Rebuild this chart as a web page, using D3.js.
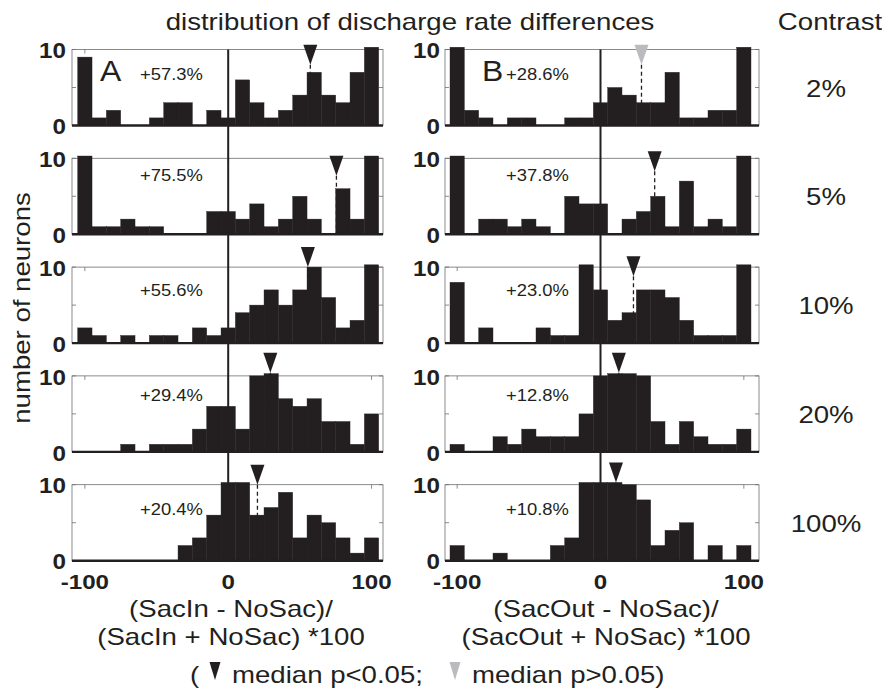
<!DOCTYPE html>
<html><head><meta charset="utf-8">
<script src="https://cdn.jsdelivr.net/npm/d3@7"></script>
<style>html,body{margin:0;padding:0;background:#fff;}svg{display:block;}</style>
</head><body>
<svg id="chart" width="882" height="690"></svg>
<script>
// ---------- DATA ----------
const binCenters = [-100,-90,-80,-70,-60,-50,-40,-30,-20,-10,0,10,20,30,40,50,60,70,80,90,100];
const contrasts = ["2%","5%","10%","20%","100%"];
// SacIn histograms (column A), one row per contrast
const sacInCounts = [
  [9,1,2,0,0,1,3,3,0,2,1,6,3,1,2,4,7,4,3,7,11],
  [11,1,1,2,1,1,0,0,0,3,3,2,4,1,2,5,2,0,6,2,11],
  [2,1,0,1,0,1,1,0,2,1,2,4,5,7,5,7,10,6,2,3,11],
  [0,0,0,1,0,1,1,1,3,6,6,3,10,11,7,6,7,4,4,1,5],
  [0,0,0,0,0,0,0,2,3,6,11,11,6,7,9,3,6,5,3,1,3]
];
// SacOut histograms (column B)
const sacOutCounts = [
  [11,2,1,0,1,1,0,0,1,1,3,5,4,3,3,7,1,1,2,2,11],
  [11,0,2,2,1,2,1,0,5,4,4,0,2,3,5,1,7,1,2,1,11],
  [8,0,2,0,0,0,2,1,1,11,7,3,4,7,7,6,3,1,1,1,11],
  [1,0,0,2,1,3,2,2,2,5,10,11,11,10,4,1,4,2,1,1,3],
  [2,0,0,1,0,0,0,2,3,11,11,11,10,8,2,4,5,0,2,0,2]
];
const sacInMedians  = [57.3, 75.5, 55.6, 29.4, 20.4];
const sacOutMedians = [28.6, 37.8, 23.0, 12.8, 10.8];
const sacInSignificant  = [true, true, true, true, true];
const sacOutSignificant = [false, true, true, true, true];
// height (in counts) of the tip of each median marker
const sacInMarkerTip  = [8.0, 7.7, 10.0, 10.4, 10.0];
const sacOutMarkerTip = [8.0, 8.3, 8.8, 10.4, 10.3];
const xTicks = [-100, 0, 100];
const yTickLabels = [0, 10];
const yMinorTicks = [0, 5, 10];

// ---------- LAYOUT ----------
const W = 882, H = 690;
const FONT = "'Liberation Sans', Arial, Helvetica, sans-serif";
const SX = 1.2;            // horizontal stretch of the original typography
const BAR = "#231f20", GRAY = "#b9bbbe";
const rowTop0 = 49.5, rowStep = 108.8, rowH = 76;
const yClip = 10.3;
const cols = [
  {name:"A", counts:sacInCounts, med:sacInMedians, sig:sacInSignificant, tip:sacInMarkerTip,
   boxL:72, boxR:383, barL:77.7, barR:378.7, labelX:140, tickLabelX:66,
   title:["(SacIn - NoSac)/","(SacIn + NoSac) *100"], titleX:231},
  {name:"B", counts:sacOutCounts, med:sacOutMedians, sig:sacOutSignificant, tip:sacOutMarkerTip,
   boxL:445, boxR:759, barL:450, barR:751, labelX:506, tickLabelX:440,
   title:["(SacOut - NoSac)/","(SacOut + NoSac) *100"], titleX:606}
];
const pctLabelDy = [30, 23, 29, 25, 30];

const svg = d3.select("#chart");
svg.append("rect").attr("width",W).attr("height",H).attr("fill","#fff");

function txt(g, x, y, s, size, opts={}) {
  return g.append("text")
    .attr("transform", `translate(${x},${y}) scale(${opts.sx||SX},1)`)
    .attr("font-family", FONT)
    .attr("font-size", size)
    .attr("font-weight", opts.weight||"normal")
    .attr("text-anchor", opts.anchor||"start")
    .attr("dominant-baseline", opts.baseline||"auto")
    .attr("fill", opts.fill||"#231f20")
    .text(s);
}
function triangle(g, cx, tipY, w, h, fill) {
  g.append("path")
    .attr("d", `M${cx-w/2},${tipY-h} L${cx+w/2},${tipY-h} L${cx},${tipY} Z`)
    .attr("fill", fill);
}

cols.forEach((col, ci) => {
  const x = d3.scaleLinear().domain([-105,105]).range([col.barL, col.barR]);
  const g = svg.append("g");
  col.counts.forEach((counts, ri) => {
    const top = rowTop0 + ri*rowStep;
    const y = d3.scaleLinear().domain([0,10]).range([top+rowH, top]);
    const p = g.append("g");
    // box (thin gray)
    p.append("rect").attr("x", col.boxL).attr("y", top)
      .attr("width", col.boxR-col.boxL).attr("height", rowH)
      .attr("fill","none").attr("stroke","#6d6e71").attr("stroke-width",0.8);
    // inner tick marks
    yMinorTicks.forEach(v => {
      p.append("line").attr("x1",col.boxL).attr("x2",col.boxL+4).attr("y1",y(v)).attr("y2",y(v))
        .attr("stroke","#6d6e71").attr("stroke-width",0.8);
      p.append("line").attr("x1",col.boxR).attr("x2",col.boxR-4).attr("y1",y(v)).attr("y2",y(v))
        .attr("stroke","#6d6e71").attr("stroke-width",0.8);
    });
    xTicks.forEach(v => {
      p.append("line").attr("x1",x(v)).attr("x2",x(v)).attr("y1",top).attr("y2",top+4)
        .attr("stroke","#6d6e71").attr("stroke-width",0.8);
    });
    // bars
    p.selectAll("rect.bar").data(binCenters.map((c,i)=>({c, v:counts[i]})).filter(d=>d.v>0))
      .enter().append("rect").attr("class","bar")
      .attr("x", d => x(d.c-5)).attr("width", d => x(d.c+5)-x(d.c-5))
      .attr("y", d => y(Math.min(d.v, yClip))).attr("height", d => y(0)-y(Math.min(d.v, yClip)))
      .attr("fill", BAR).attr("stroke", BAR).attr("stroke-width", 0.4);
    // thick baseline
    p.append("line").attr("x1",col.boxL).attr("x2",col.boxR).attr("y1",y(0)).attr("y2",y(0))
      .attr("stroke",BAR).attr("stroke-width",2.4);
    // y tick labels
    yTickLabels.forEach(v => {
      txt(p, col.tickLabelX, y(v)+1, String(v), 22, {weight:"bold", anchor:"end", baseline:"central", sx:1.1});
    });
    // percentage label
    const m = col.med[ri];
    txt(p, col.labelX, top + pctLabelDy[ri], (m>=0?"+":"") + m.toFixed(1) + "%", 16, {sx:1.15});
    // median marker
    const tipY = y(col.tip[ri]);
    p.append("line").attr("x1", x(m)).attr("x2", x(m)).attr("y1", tipY).attr("y2", y(0))
      .attr("stroke", BAR).attr("stroke-width", 1.3).attr("stroke-dasharray","4,3");
    triangle(p, x(m), tipY, 14, 20, col.sig[ri] ? BAR : GRAY);
  });
  // zero line spanning all rows
  g.append("line").attr("x1", x(0)).attr("x2", x(0))
    .attr("y1", rowTop0).attr("y2", rowTop0 + 4*rowStep + rowH)
    .attr("stroke", BAR).attr("stroke-width", 2);
  // x tick labels
  const bottom = rowTop0 + 4*rowStep + rowH;
  xTicks.forEach(v => {
    txt(g, x(v), bottom + 28, String(v), 21, {weight:"bold", anchor:"middle", sx:1.15});
  });
  // panel letter
  txt(g, col.boxL + (ci===0?28:37), rowTop0 + 31, col.name, 29, {sx:1.1});
  // axis title
  txt(g, col.titleX, 617, col.title[0], 23, {anchor:"middle"});
  txt(g, col.titleX, 645, col.title[1], 23, {anchor:"middle"});
});

// title, contrast labels, y label
txt(svg, 410, 30, "distribution of discharge rate differences", 23, {anchor:"middle"});
txt(svg, 830, 30, "Contrast", 23, {anchor:"middle"});
contrasts.forEach((c, ri) => {
  txt(svg, 826, rowTop0 + ri*rowStep + 39, c, 23, {anchor:"middle", baseline:"central"});
});
svg.append("text")
  .attr("transform", `translate(30,308) rotate(-90) scale(1.2,1)`)
  .attr("font-family", FONT).attr("font-size", 23).attr("text-anchor","middle")
  .attr("fill","#231f20").text("number of neurons");

// legend line
const lg = svg.append("g");
txt(lg, 190, 683, "(", 23);
triangle(lg, 215, 680, 11, 18, BAR);
txt(lg, 232, 683, "median p<0.05;", 23);
triangle(lg, 455, 680, 11, 18, GRAY);
txt(lg, 472, 683, "median p>0.05)", 23);
</script>
</body></html>
